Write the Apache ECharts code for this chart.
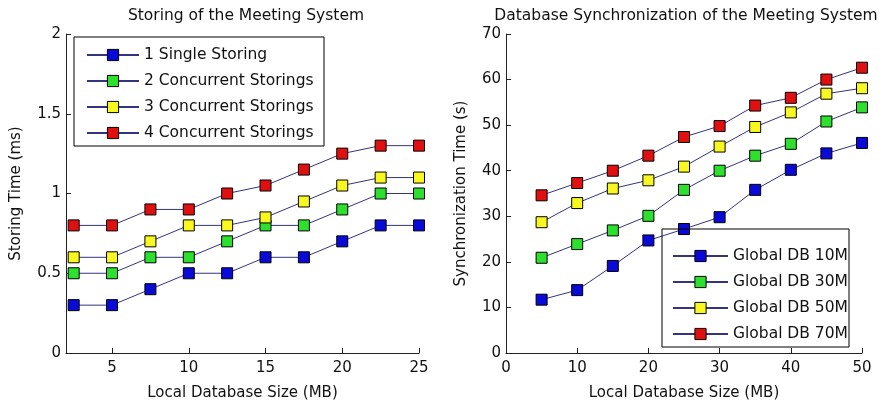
<!DOCTYPE html>
<html>
<head>
<meta charset="utf-8">
<script src="https://cdn.jsdelivr.net/npm/echarts@6/dist/echarts.min.js"></script>
<style>
  html, body { margin: 0; padding: 0; background: #fff; }
  #chart { width: 879px; height: 406px; }
</style>
</head>
<body>
<div id="chart"></div>
<script>
// left chart: storing time (ms) vs local db size (MB)
const storeSizes = [2.5, 5, 7.5, 10, 12.5, 15, 17.5, 20, 22.5, 25];
const storeNames = ['1 Single Storing', '2 Concurrent Storings', '3 Concurrent Storings', '4 Concurrent Storings'];
const store1 = [0.3, 0.3, 0.4, 0.5, 0.5, 0.6, 0.6, 0.7, 0.8, 0.8];
const store2 = [0.5, 0.5, 0.6, 0.6, 0.7, 0.8, 0.8, 0.9, 1.0, 1.0];
const store3 = [0.6, 0.6, 0.7, 0.8, 0.8, 0.85, 0.95, 1.05, 1.1, 1.1];
const store4 = [0.8, 0.8, 0.9, 0.9, 1.0, 1.05, 1.15, 1.25, 1.3, 1.3];

// right chart: synchronization time (s) vs local db size (MB)
const syncSizes = [5, 10, 15, 20, 25, 30, 35, 40, 45, 50];
const syncNames = ['Global DB 10M', 'Global DB 30M', 'Global DB 50M', 'Global DB 70M'];
const sync10 = [11.7, 13.8, 19.1, 24.7, 27.2, 29.8, 35.8, 40.2, 43.8, 46.1];
const sync30 = [20.9, 23.9, 26.9, 30.1, 35.8, 40.0, 43.3, 45.9, 50.8, 53.9];
const sync50 = [28.7, 32.9, 36.1, 37.9, 40.9, 45.3, 49.6, 52.8, 56.9, 58.1];
const sync70 = [34.6, 37.3, 40.0, 43.3, 47.4, 49.8, 54.3, 56.0, 60.0, 62.6];

const markerColors = ['#0a0ad8', '#2ee02e', '#f8f820', '#e01010'];
const lineColor = '#33337f';
const font = 'DejaVu Sans, Verdana, sans-serif';

function pairs(xs, ys) {
  return xs.map((x, i) => [x, ys[i]]);
}

function makeSeries(name, xs, ys, idx, axisIdx) {
  return {
    name: name,
    type: 'line',
    xAxisIndex: axisIdx,
    yAxisIndex: axisIdx,
    data: pairs(xs, ys),
    symbol: 'rect',
    symbolSize: 11,
    showAllSymbol: true,
    lineStyle: { color: lineColor, width: 1 },
    itemStyle: { color: markerColors[idx], borderColor: '#000', borderWidth: 1 },
    emphasis: { disabled: true },
    animation: false
  };
}

const axisText = { color: '#111', fontSize: 15, fontFamily: font };
const axisLine = { show: true, lineStyle: { color: '#222', width: 1 } };
const titleText = { fontSize: 15.5, fontWeight: 'normal', color: '#111', fontFamily: font };
const legendText = { color: '#111', fontSize: 15.5, fontFamily: font };

const chart = echarts.init(document.getElementById('chart'));
chart.setOption({
  animation: false,
  title: [
    { text: 'Storing of the Meeting System', left: 241, top: 3, textAlign: 'center', textStyle: titleText },
    { text: 'Database Synchronization of the Meeting System', left: 681, top: 3, textAlign: 'center', textStyle: titleText }
  ],
  grid: [
    { left: 66, right: 460, top: 34, bottom: 52 },
    { left: 506, right: 17, top: 34, bottom: 52 }
  ],
  xAxis: [
    {
      gridIndex: 0, type: 'value', min: 2, max: 25,
      name: 'Local Database Size (MB)', nameLocation: 'middle', nameGap: 33,
      nameTextStyle: axisText,
      axisLine: axisLine,
      axisTick: { inside: true, length: 5, customValues: [5, 10, 15, 20, 25], lineStyle: { color: '#222' } },
      axisLabel: Object.assign({ margin: 8, customValues: [5, 10, 15, 20, 25] }, axisText),
      splitLine: { show: false }
    },
    {
      gridIndex: 1, type: 'value', min: 0, max: 50, interval: 10,
      name: 'Local Database Size (MB)', nameLocation: 'middle', nameGap: 33,
      nameTextStyle: axisText,
      axisLine: axisLine,
      axisTick: { inside: true, length: 5, lineStyle: { color: '#222' } },
      axisLabel: Object.assign({ margin: 8 }, axisText),
      splitLine: { show: false }
    }
  ],
  yAxis: [
    {
      gridIndex: 0, type: 'value', min: 0, max: 2, interval: 0.5,
      name: 'Storing Time (ms)', nameLocation: 'middle', nameGap: 42,
      nameTextStyle: axisText,
      axisLine: axisLine,
      axisTick: { inside: true, length: 5, lineStyle: { color: '#222' } },
      axisLabel: Object.assign({ margin: 5 }, axisText),
      splitLine: { show: false }
    },
    {
      gridIndex: 1, type: 'value', min: 0, max: 70, interval: 10,
      name: 'Synchronization Time (s)', nameLocation: 'middle', nameGap: 37,
      nameTextStyle: axisText,
      axisLine: axisLine,
      axisTick: { inside: true, length: 5, lineStyle: { color: '#222' } },
      axisLabel: Object.assign({ margin: 5 }, axisText),
      splitLine: { show: false }
    }
  ],
  legend: [
    {
      data: storeNames, orient: 'vertical', left: 86, top: 47,
      itemWidth: 52, itemHeight: 14, itemGap: 10, padding: 0,
      itemStyle: { borderWidth: 1 },
      textStyle: legendText
    },
    {
      data: syncNames, orient: 'vertical', left: 672, top: 248,
      itemWidth: 55, itemHeight: 14, itemGap: 10, padding: 0,
      itemStyle: { borderWidth: 1 },
      textStyle: legendText
    }
  ],
  graphic: [
    { type: 'rect', shape: { x: 74, y: 37, width: 250, height: 109 },
      style: { fill: 'none', stroke: '#000', lineWidth: 1 }, silent: true, z: 100 },
    { type: 'rect', shape: { x: 662, y: 229, width: 187, height: 118 },
      style: { fill: 'none', stroke: '#000', lineWidth: 1 }, silent: true, z: 100 }
  ],
  series: [
    makeSeries(storeNames[0], storeSizes, store1, 0, 0),
    makeSeries(storeNames[1], storeSizes, store2, 1, 0),
    makeSeries(storeNames[2], storeSizes, store3, 2, 0),
    makeSeries(storeNames[3], storeSizes, store4, 3, 0),
    makeSeries(syncNames[0], syncSizes, sync10, 0, 1),
    makeSeries(syncNames[1], syncSizes, sync30, 1, 1),
    makeSeries(syncNames[2], syncSizes, sync50, 2, 1),
    makeSeries(syncNames[3], syncSizes, sync70, 3, 1)
  ]
});
</script>
</body>
</html>
